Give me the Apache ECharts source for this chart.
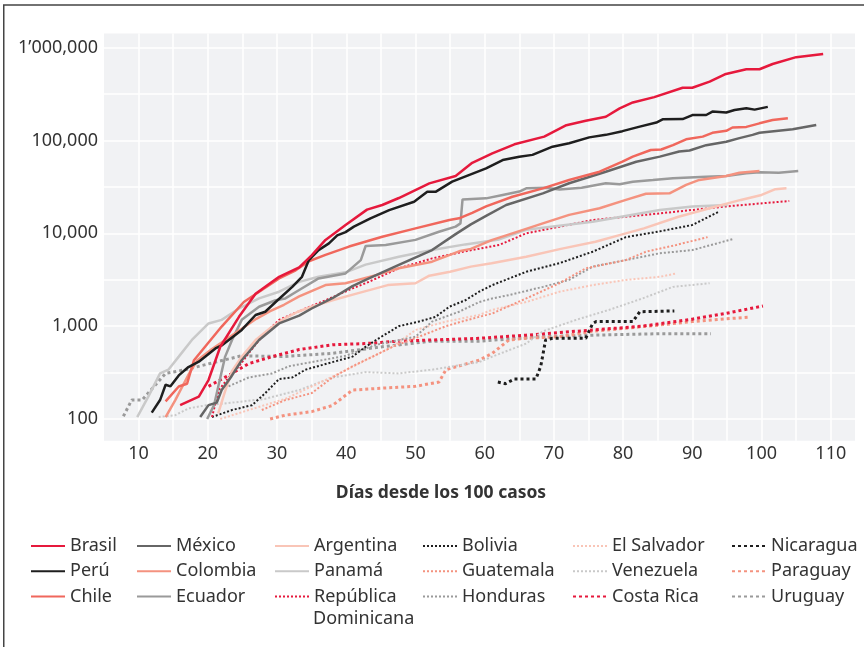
<!DOCTYPE html>
<html>
<head>
<meta charset="utf-8">
<script src="https://cdn.jsdelivr.net/npm/echarts@6/dist/echarts.min.js"></script>
<style>
html,body{margin:0;padding:0;background:#fff;}
#chart{width:864px;height:647px;}
</style>
</head>
<body>
<div id="chart"></div>
<script>
// [día, casos]
var brasil = [[16,141],[18.7,174],[20.1,263],[21.8,600],[24.5,1260],[26.9,2240],[30.3,3400],[33.2,4300],[35,5800],[37,8500],[39.9,12300],[43,18000],[45.2,20200],[47.6,24000],[52,34500],[55.8,41400],[58.2,57500],[61.1,72600],[64.3,91000],[68.6,110000],[71.8,146000],[74.6,163000],[77.5,180000],[79.5,222000],[81.4,257000],[84.5,293000],[88.6,370000],[90,370000],[92.5,430000],[94.7,516000],[97.8,585000],[99.7,585000],[101.6,667000],[105,790000],[108.9,855000]];
var peru = [[11.9,117],[13.1,160],[13.9,234],[14.6,225],[15.8,295],[17.2,363],[18.7,414],[21.1,575],[22,620],[24.9,910],[26.9,1320],[28.3,1430],[29.8,1820],[32.2,2650],[33.6,3400],[34.6,5150],[36,6600],[37.5,7800],[38.7,9500],[39.9,10300],[41.1,11800],[43.5,14500],[46.2,17800],[49.8,21900],[51.7,28000],[52.9,28000],[55.3,36000],[57.8,42700],[60.2,50000],[62.6,61600],[65,66900],[66.9,70000],[69.8,85800],[72.2,93300],[75.1,108000],[77.5,115000],[79.9,126000],[82.4,141000],[84.8,156000],[85.7,169000],[88.6,170000],[90,188000],[92,188000],[92.9,205000],[94.9,200000],[96.1,213000],[97.8,222000],[99,215000],[100.9,230000]];
var chile = [[13.9,155],[15.8,224],[17,240],[18,430],[19.6,600],[22,990],[25.2,1820],[27.8,2450],[30.3,3270],[32.7,4000],[34.6,5000],[37,5850],[40.4,7200],[45.2,9200],[50,11300],[54.9,13900],[56.3,14500],[58.2,16600],[60.2,19500],[64,24800],[68.4,30500],[72.2,37500],[76.6,46100],[79.9,59100],[81.4,66900],[84,79000],[85.5,80000],[87.2,89000],[89.1,103000],[91.5,110000],[92.9,121000],[94.9,127000],[95.8,138000],[97.8,140000],[99.7,153000],[101.6,166000],[103.8,174000]];
var mexico = [[18.9,105],[20.1,141],[21.3,150],[22,205],[23.3,280],[24.9,430],[27.4,710],[30.3,1070],[33.2,1300],[35,1550],[38,2000],[40.9,2700],[42.8,3150],[47.6,4570],[52.4,6600],[55.8,9800],[58,12500],[60.2,15400],[63.1,20200],[68.4,26900],[72.2,34600],[77.5,46100],[81.9,59100],[85.3,67000],[88.1,76000],[89.6,78000],[92,89000],[94.9,97000],[96.8,106000],[98.7,115000],[99.7,121000],[104.5,132000],[107.9,147000]];
var colombia = [[13.9,105],[15.3,160],[17.2,300],[18.5,430],[20.5,560],[23,750],[25,950],[27,1200],[29,1450],[31,1700],[33.2,2090],[37,2770],[39.9,2900],[44.3,3550],[47.6,4200],[52.4,4950],[56.3,6400],[58,6800],[61.1,8500],[64,10000],[68.4,12800],[72.2,15800],[76.6,18600],[80.4,22900],[83.3,26700],[86.7,27000],[89.1,33200],[91,37600],[94.9,41400],[96.8,45000],[99.7,46800]];
var ecuador = [[19.9,100],[20.9,141],[21.6,240],[22.5,470],[23.5,710],[24.9,1170],[27.4,1620],[29.8,1900],[31.2,1990],[33.2,2450],[36,3270],[39.9,3700],[42.1,5150],[42.8,7300],[45.7,7500],[50,8500],[53.4,10400],[55.8,11800],[56.5,12800],[56.8,23200],[60.2,23800],[62.6,25900],[65,28200],[66,30500],[68.8,31000],[70.8,29700],[74,31000],[77.5,34600],[79.5,33800],[81.4,36000],[84.3,37500],[87.2,39200],[92,40800],[94.9,41400],[97.8,44300],[99.7,45500],[102.5,45000],[105.3,47000]];
var argentina = [[21.5,115],[22.5,200],[23.5,330],[25,480],[27,720],[29,950],[31,1200],[33,1430],[35,1620],[38,1900],[42,2300],[46,2770],[50,2900],[52,3500],[55,3850],[58,4380],[61,4770],[66,5600],[71,6800],[76,8100],[80,9800],[83,11300],[88,15100],[92.5,18600],[97,22900],[100,25900],[102,29900],[103.6,30500]];
var panama = [[9.8,105],[11.4,174],[13.1,310],[14.3,340],[15.8,470],[17.7,710],[20.1,1070],[22,1170],[24.5,1550],[27.4,1990],[30.3,2350],[33.2,3000],[36,3400],[39.9,3800],[42.8,4600],[47.6,5600],[52.4,6600],[57.2,7600],[62.1,8600],[66,10900],[75.6,13300],[85.3,17800],[90,19500],[95.1,20200]];
var repDominicana = [[20.6,105],[21.6,205],[23,280],[24.5,370],[25.9,510],[27.8,770],[30.3,1170],[33.2,1450],[37,1900],[40.9,2550],[42.8,2900],[47.6,4200],[52.4,5370],[57.2,6400],[62.1,7500],[66,10000],[75.6,13900],[85.3,16400],[94.9,19500],[104,22300]];
var bolivia = [[20.6,105],[23.5,125],[26.4,141],[28.3,190],[30.3,270],[32.2,280],[34.1,340],[38,410],[40.9,470],[42.8,600],[44.7,740],[47.6,1000],[50.5,1120],[52.9,1260],[54.9,1620],[57.2,1900],[59.2,2350],[61.1,2770],[66,3850],[70.8,4770],[75.6,6340],[80.4,9100],[85.3,10500],[90,12300],[93.9,17200]];
var guatemala = [[27.8,125],[31.2,160],[35,190],[38,280],[40.9,370],[43.8,470],[46.7,600],[50.5,770],[54.4,1000],[56.3,1100],[59.2,1260],[61.1,1370],[66,1990],[70.8,2900],[74.6,4200],[80.4,5150],[83.3,6340],[87.7,7500],[92.2,9100]];
var honduras = [[23,225],[25.9,280],[29.3,310],[31.7,370],[35,410],[39.9,480],[44.3,630],[50,770],[52.4,1120],[56.3,1430],[59.2,1820],[61.1,1990],[63.5,2160],[68.4,2650],[72.2,3150],[75.6,4380],[80.4,5150],[85.3,6100],[90,6600],[95.8,8650]];
var elSalvador = [[21.8,100],[25.9,125],[31.2,165],[35.6,235],[39,310],[42.8,430],[46.7,600],[50,910],[54.4,1120],[59.2,1320],[61.1,1500],[66,1820],[70.8,2350],[75.6,2770],[80.4,3150],[85.3,3400],[87.7,3700]];
var venezuela = [[12.9,105],[15.3,110],[17.2,130],[19.6,140],[23.5,150],[28.3,165],[33.2,205],[38,280],[42.8,320],[47.6,310],[52.4,340],[59.2,410],[61.1,470],[66,650],[68.4,880],[73.2,1170],[78,1500],[82.8,1990],[87.2,2650],[92.5,2900]];
var costaRica = [[20.1,225],[23.5,310],[25.9,395],[29.3,470],[33.2,560],[38,630],[42.8,650],[47.6,690],[52.4,710],[59.2,740],[66,800],[75.6,910],[82.8,1000],[90,1190],[94.9,1375],[100.2,1650]];
var nicaragua = [[61.9,250],[63,240],[64.3,270],[67.4,270],[68.1,370],[68.8,710],[69.8,740],[74.6,740],[75.6,1070],[76.1,1120],[81.4,1120],[82.4,1430],[87.4,1460]];
var paraguay = [[29,100],[31.2,110],[35,120],[38,140],[40.9,205],[45.2,215],[50,225],[53.4,250],[54.4,340],[57.2,390],[59.2,430],[61.1,510],[63.5,710],[66,740],[70.8,770],[75.6,880],[80.4,950],[85.3,1030],[90,1120],[94.9,1200],[98.3,1250]];
var uruguay = [[7.8,107],[9,160],[10.5,160],[13.9,310],[16.8,340],[21.1,410],[24.9,480],[30.7,470],[38,510],[45.2,600],[52.4,690],[59.2,690],[68.4,770],[75.6,800],[85.3,830],[92.7,830]];

var FONT = '"Noto Sans", sans-serif';
var TXT = '#333';
var RED = '#e6193c', BLACK = '#1e1e1e', CORAL = '#f0675c', DGRAY = '#666666',
    SALMON = '#f4927f', GRAY = '#9a9a9a', PINK = '#f9c5b7', LGRAY = '#c9c9c9';

var series = [];
function addLine(name, data, color, kind) {
  var ls = {color: color, width: 2.5};
  if (kind == 'dot') { ls.width = 2; ls.type = [2, 2]; }
  if (kind == 'dot2') { ls.width = 3; ls.type = [3, 3]; }
  series.push({
    name: name, type: 'line', data: data, symbol: 'none',
    itemStyle: {color: color}, lineStyle: ls, z: kind == 'solid' ? 3 : 2
  });
}
addLine('Uruguay', uruguay, GRAY, 'dot2');
addLine('Paraguay', paraguay, SALMON, 'dot2');
addLine('Nicaragua', nicaragua, BLACK, 'dot2');
addLine('Costa Rica', costaRica, RED, 'dot2');
addLine('Venezuela', venezuela, LGRAY, 'dot');
addLine('El Salvador', elSalvador, PINK, 'dot');
addLine('Honduras', honduras, GRAY, 'dot');
addLine('Guatemala', guatemala, SALMON, 'dot');
addLine('Bolivia', bolivia, BLACK, 'dot');
addLine('República Dominicana', repDominicana, RED, 'dot');
addLine('Panamá', panama, LGRAY, 'solid');
addLine('Argentina', argentina, PINK, 'solid');
addLine('Ecuador', ecuador, GRAY, 'solid');
addLine('Colombia', colombia, SALMON, 'solid');
addLine('México', mexico, DGRAY, 'solid');
addLine('Chile', chile, CORAL, 'solid');
addLine('Perú', peru, BLACK, 'solid');
addLine('Brasil', brasil, RED, 'solid');

var legendCols = [
  [30, ['Brasil', 'Perú', 'Chile']],
  [136, ['México', 'Colombia', 'Ecuador']],
  [274, ['Argentina', 'Panamá', 'República Dominicana']],
  [422, ['Bolivia', 'Guatemala', 'Honduras']],
  [572, ['El Salvador', 'Venezuela', 'Costa Rica']],
  [731, ['Nicaragua', 'Paraguay', 'Uruguay']]
];
var legends = legendCols.map(function (c) {
  return {
    orient: 'vertical', left: c[0], top: 534, padding: 0,
    itemWidth: 34, itemHeight: 14, itemGap: 1.2,
    data: c[1], selectedMode: false,
    itemStyle: {opacity: 0},
    formatter: function (n) { return n == 'República Dominicana' ? 'República' : n; },
    textStyle: {fontFamily: FONT, fontSize: 18, color: TXT, lineHeight: 24}
  };
});

function fmtY(v) {
  var l = Math.log10(v);
  if (Math.abs(l - Math.round(l)) > 0.01) return '';
  v = Math.round(v);
  var s = v.toString().replace(/\B(?=(\d{3})+(?!\d))/g, ',');
  if (v >= 1000000) {
    var i = s.indexOf(',');
    s = s.slice(0, i) + '’' + s.slice(i + 1);
  }
  return s;
}

var chart = echarts.init(document.getElementById('chart'));
chart.setOption({
  animation: false,
  backgroundColor: '#fff',
  grid: {left: 104, right: 9, top: 33.5, bottom: 206.3, show: true, backgroundColor: '#f1f2f4', borderWidth: 0},
  xAxis: {
    type: 'value', min: 5, max: 113.5, interval: 5,
    axisLine: {show: false}, axisTick: {show: false},
    splitLine: {show: true, showMinLine: false, showMaxLine: false, lineStyle: {color: '#fff', width: 1.5}},
    axisLabel: {
      color: TXT, fontSize: 18, fontFamily: FONT, margin: 4, showMaxLabel: false,
      formatter: function (v) { return v % 10 === 0 ? String(v) : ''; }
    }
  },
  yAxis: [{
    type: 'log', logBase: 10, min: 58.4, max: 1.42e6,
    axisLine: {show: false}, axisTick: {show: false}, splitLine: {show: false},
    axisLabel: {color: TXT, fontSize: 18, fontFamily: FONT, margin: 6, formatter: fmtY}
  }, {
    type: 'log', logBase: Math.sqrt(10), min: 58.4, max: 1.42e6, position: 'left',
    axisLine: {show: false}, axisTick: {show: false}, axisLabel: {show: false},
    splitLine: {show: true, showMinLine: false, showMaxLine: false, lineStyle: {color: '#fff', width: 1.5}}
  }],
  legend: legends,
  series: series,
  graphic: [
    {type: 'rect', silent: true, shape: {x: 3.75, y: 5, width: 880, height: 680},
     style: {fill: 'none', stroke: '#444', lineWidth: 1.5}},
    {type: 'text', silent: true, x: 441, y: 493,
     style: {text: 'Días desde los 100 casos', fill: TXT, font: 'bold 17.5px "Noto Sans", sans-serif', textAlign: 'center', textVerticalAlign: 'middle'}},
    {type: 'text', silent: true, x: 313, y: 619,
     style: {text: 'Dominicana', fill: TXT, font: '18px "Noto Sans", sans-serif', textAlign: 'left', textVerticalAlign: 'middle'}}
  ]
});
</script>
</body>
</html>
